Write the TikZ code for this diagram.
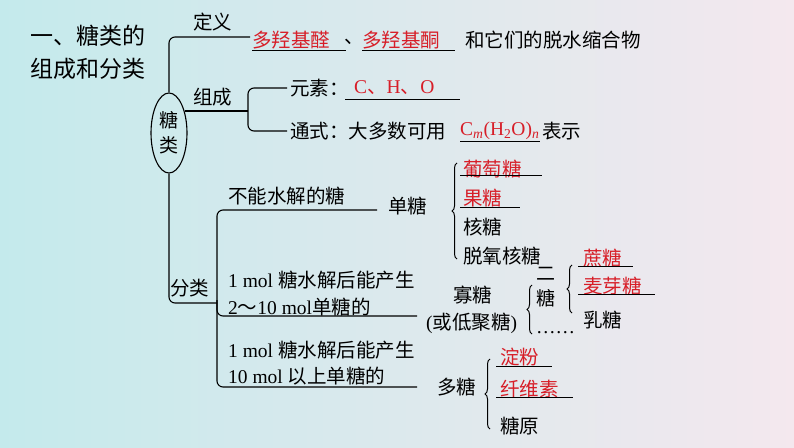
\documentclass[tikz,border=0pt]{standalone}
\usepackage{fontspec}
\setmainfont{Noto Sans CJK SC}
\newfontfamily\tn{Liberation Serif}
\newfontfamily\cj{Noto Sans CJK SC}
\usetikzlibrary{decorations.pathreplacing,shapes.geometric}
\definecolor{rd}{RGB}{215,30,40}
\begin{document}
\begin{tikzpicture}[x=1pt,y=-1pt,
  t/.style={anchor=west,inner sep=0pt,font=\fontsize{19.5}{19.5}\selectfont},
  tr/.style={t,text=rd},
  ln/.style={line width=1.1pt,rounded corners=6pt},
  ul/.style={line width=0.9pt},
  br/.style={decorate,decoration={brace,mirror,amplitude=5pt},line width=1pt}]
\shade[left color={rgb,255:red,196;green,234;blue,236},right color={rgb,255:red,244;green,232;blue,238}] (0,0) rectangle (794,447);
\useasboundingbox (0,0) rectangle (794,447);
% title
\node[t,font=\fontsize{23}{23}\selectfont] (ti1) at (30,36) {一、糖类的};
\node[t,font=\fontsize{23}{23}\selectfont] (ti2) at (30,69) {组成和分类};
% ellipse
\node[draw,ellipse,line width=1.1pt,minimum width=36pt,minimum height=80pt,inner sep=0pt,align=center,font=\fontsize{19}{25}\selectfont] (el) at (169,133) {糖\\类};
\coordinate (dy) at (250,37);
\draw[ln] (el.north) |- (dy);
\node[t] (dl) at (193,22) {定义};
\node[tr] (d1) at (252,40) {多羟基醛};
\draw[ul] (252,50) -- (346,50);
\node[t] (dun) at (344,42) {、};
\node[tr] (d2) at (362,40) {多羟基酮};
\draw[ul] (362,50) -- (455,50);
\node[t] (d3) at (465,40) {和它们的脱水缩合物};
% 组成
\coordinate (zc) at (248,111);
\coordinate (ze) at (185,111);
\draw[ln] (ze) -- (zc);
\node[t] (zl) at (193,97) {组成};
\coordinate (z1) at (287,88); \coordinate (z2) at (287,131);
\draw[ln] (z1) -| (zc) |- (z2);
\node[t] (ys) at (290,88) {元素：};
\node[tr] (yv) at (354,88) {\tn C{\cj 、}H{\cj 、}O};
\draw[ul] (345,99) -- (460,99);
\node[t] (ts) at (290,131) {通式：大多数可用};
\node[tr] (tv) at (460,131) {\tn C\textsubscript{\itshape m}(H\textsubscript{2}O)\textsubscript{\itshape n}};
\draw[ul] (460,141) -- (540,141);
\node[t] (tb) at (542,131) {表示};
% 分类
\coordinate (fc) at (217,303);
\draw[ln] (el.south) |- (fc);
\node[t] (fl) at (170,288) {分类};
\coordinate (f1) at (377,210); \coordinate (f2) at (417,316); \coordinate (f3) at (417,387);
\draw[ln] (f1) -| (217,387) -- (f3);
\draw[ln] (217,300) |- (f2);
\node[t] (fa) at (228,196) {不能水解的糖};
\node[t] (fb1) at (228,280) {\tn 1 mol \rmfamily 糖水解后能产生};
\node[t] (fb2) at (228,307) {\tn 2{\cj ～}10 mol\rmfamily 单糖的};
\node[t] (fc1) at (228,350) {\tn 1 mol \rmfamily 糖水解后能产生};
\node[t] (fc2) at (228,376) {\tn 10 mol \rmfamily 以上单糖的};
% 单糖
\node[t] (dt) at (388,206) {单糖};
\draw[br] (457,163) -- (457,259);
\node[tr] (m1) at (463,169) {葡萄糖};\draw[ul] (460,175) -- (542,175);
\node[tr] (m2) at (463,198) {果糖};\draw[ul] (460,207) -- (520,207);
\node[t] (m3) at (463,227) {核糖};
\node[t] (m4) at (463,256) {脱氧核糖};
% 寡糖
\node[t] (gt) at (453,295) {寡糖};
\node[t] (gt2) at (426,323) {\tn(\rmfamily 或低聚糖\tn)};
\draw[br] (532,285) -- (532,334);
\node[t,align=center,font=\fontsize{19}{25}\selectfont] (et) at (536,287) {二\\糖};
\node[t] (dots) at (536,333) {\tn ……};
\draw[br] (572,265) -- (572,313);
\node[tr] (e1) at (583,258) {蔗糖};\draw[ul] (578,266) -- (633,266);
\node[tr] (e2) at (583,286) {麦芽糖};\draw[ul] (578,294) -- (655,294);
\node[t] (e3) at (583,320) {乳糖};
% 多糖
\node[t] (pt) at (437,387) {多糖};
\draw[br] (490,359) -- (490,429);
\node[tr] (p1) at (500,357) {淀粉};\draw[ul] (496,366) -- (552,366);
\node[tr] (p2) at (500,389) {纤维素};\draw[ul] (496,397) -- (573,397);
\node[t] (p3) at (500,426) {糖原};
\end{tikzpicture}
\end{document}
